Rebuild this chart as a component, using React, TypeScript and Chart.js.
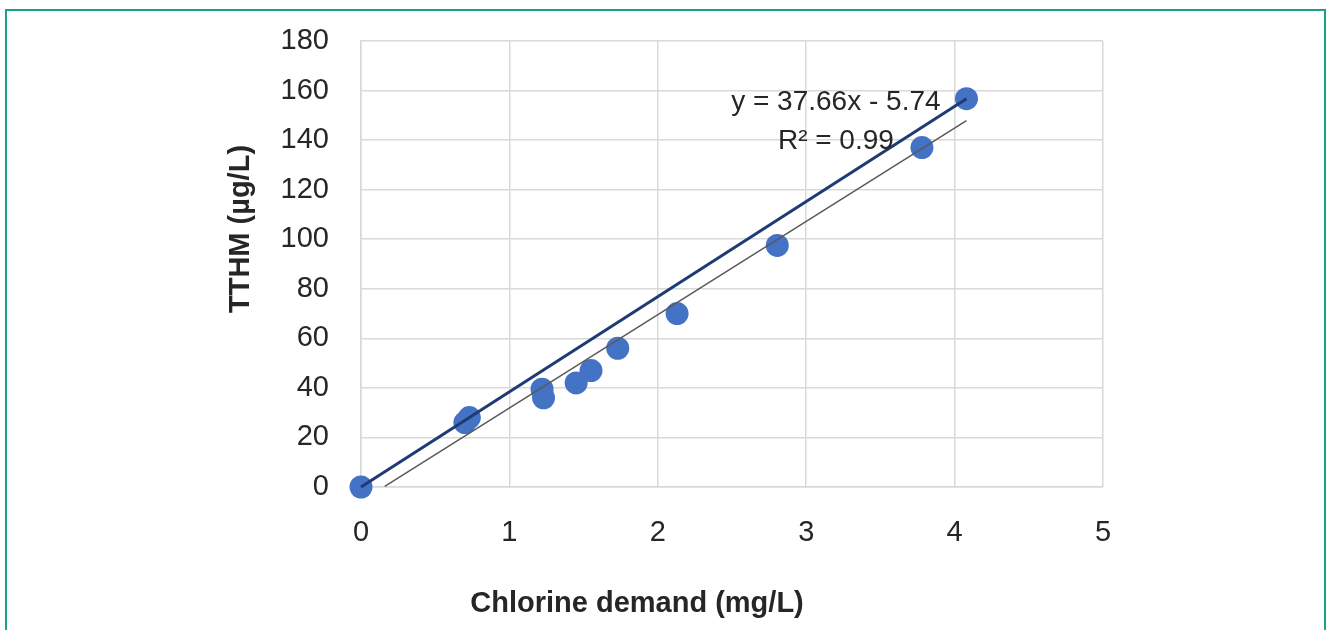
import React, { useEffect, useRef } from "react";
import { Chart, registerables } from "chart.js";

Chart.register(...registerables);

// Measured data (Chlorine demand mg/L vs TTHM µg/L)
const chlorineDemand = [0, 0.70, 0.73, 1.22, 1.23, 1.45, 1.55, 1.73, 2.13, 2.805, 3.78, 4.08];
const tthm = [0, 26, 28, 39.5, 36, 42, 47, 56, 70, 97.5, 137, 156.7];

// Trend lines
const fitLineX = [0.16, 4.08];
const fitLineY = [0.29, 147.9]; // y = 37.66x - 5.74
const originLineX = [0, 4.08];
const originLineY = [0, 156.7];

const xTicks = [0, 1, 2, 3, 4, 5];
const yTicks = [0, 20, 40, 60, 80, 100, 120, 140, 160, 180];

const equationText = "y = 37.66x - 5.74";
const r2Text = "R² = 0.99";
const xTitle = "Chlorine demand (mg/L)";
const yTitle = "TTHM (µg/L)";

const FONT = "'Liberation Sans', Arial, sans-serif";

export default function App() {
  const ref = useRef<HTMLCanvasElement | null>(null);

  useEffect(() => {
    if (!ref.current) return;
    const textPlugin = {
      id: "customText",
      afterDatasetsDraw(chart: any) {
        const { ctx, scales } = chart;
        const xs = scales.x;
        const ys = scales.y;
        ctx.save();
        ctx.fillStyle = "#262626";
        ctx.textAlign = "center";
        ctx.textBaseline = "middle";
        ctx.font = `28px ${FONT}`;
        const ex = xs.getPixelForValue(3.2);
        ctx.fillText(equationText, ex, ys.getPixelForValue(155.2));
        ctx.fillText(r2Text, ex, ys.getPixelForValue(139.6));
        // axis titles
        ctx.font = `bold 29px ${FONT}`;
        ctx.fillText(xTitle, 637, 604);
        ctx.translate(241, 229);
        ctx.rotate(-Math.PI / 2);
        ctx.fillText(yTitle, 0, 0);
        ctx.restore();
      },
    };

    const chart = new Chart(ref.current, {
      type: "scatter",
      data: {
        datasets: [
          {
            label: "origin",
            type: "line",
            data: originLineX.map((x, i) => ({ x, y: originLineY[i] })),
            borderColor: "#1F3B73",
            borderWidth: 3,
            pointRadius: 0,
            showLine: true,
            clip: false,
            order: 0,
          } as any,
          {
            label: "fit",
            type: "line",
            data: fitLineX.map((x, i) => ({ x, y: fitLineY[i] })),
            borderColor: "#595959",
            borderWidth: 1.5,
            pointRadius: 0,
            showLine: true,
            clip: false,
            order: 1,
          } as any,
          {
            label: "TTHM",
            data: chlorineDemand.map((x, i) => ({ x, y: tthm[i] })),
            backgroundColor: "#4472C4",
            borderColor: "#4472C4",
            borderWidth: 0,
            pointRadius: 11.5,
            clip: false,
            order: 2,
          } as any,
        ],
      },
      options: {
        animation: false,
        responsive: false,
        layout: { padding: { left: 0, top: 41, right: 227, bottom: 0 } },
        plugins: { legend: { display: false }, tooltip: { enabled: false } },
        scales: {
          x: {
            type: "linear",
            min: 0,
            max: 5,
            afterFit: (s: any) => {
              s.height = 143;
              s.paddingLeft = 0;
              s.paddingRight = 0;
            },
            afterBuildTicks: (s: any) => {
              s.ticks = xTicks.map((v) => ({ value: v }));
            },
            grid: { color: "#d9d9d9", lineWidth: 1.5, drawTicks: false },
            border: { color: "#d9d9d9", width: 1.5 },
            ticks: {
              padding: 29,
              color: "#262626",
              font: { family: FONT, size: 29 },
            },
          },
          y: {
            type: "linear",
            min: 0,
            max: 180,
            afterFit: (s: any) => {
              s.width = 361;
              s.paddingTop = 0;
              s.paddingBottom = 0;
            },
            afterBuildTicks: (s: any) => {
              s.ticks = yTicks.map((v) => ({ value: v }));
            },
            grid: { color: "#d9d9d9", lineWidth: 1.5, drawTicks: false },
            border: { color: "#d9d9d9", width: 1.5 },
            ticks: {
              padding: 32,
              color: "#262626",
              font: { family: FONT, size: 29 },
            },
          },
        },
      },
      plugins: [textPlugin],
    });
    return () => chart.destroy();
  }, []);

  return (
    <div style={{ position: "absolute", left: 0, top: 0, width: 1330, height: 630, background: "#fff", overflow: "hidden" }}>
      <div
        style={{
          position: "absolute",
          left: 5,
          top: 9,
          width: 1317,
          height: 640,
          borderLeft: "2px solid #17A385",
          borderTop: "2px solid #17A385",
          borderRight: "2px solid #17A385",
        }}
      />
      <canvas ref={ref} width={1330} height={630} style={{ position: "absolute", left: 0, top: 0 }} />
    </div>
  );
}
